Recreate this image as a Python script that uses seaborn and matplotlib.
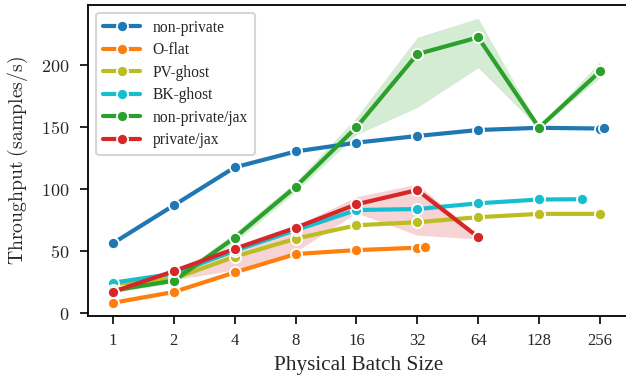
import numpy as np
import pandas as pd
import matplotlib
matplotlib.use("Agg")
import matplotlib.pyplot as plt
import matplotlib.ticker as mticker
import seaborn as sns

# ---- data ----
methods = ["non-private", "O-flat", "PV-ghost", "BK-ghost", "non-private/jax", "private/jax"]
colors = ["#1f77b4", "#ff7f0e", "#bcbd22", "#17becf", "#2ca02c", "#d62728"]

x_nonpriv = [1, 2, 4, 8, 16, 32, 64, 128, 256, 268]
y_nonpriv = [56.5, 87.1, 117.7, 130.5, 137.6, 143.0, 147.8, 149.6, 149.0, 149.8]

x_oflat = [1, 2, 4, 8, 16, 32, 35]
y_oflat = [8.5, 17.2, 33.0, 47.8, 51.0, 52.9, 53.7]

x_pv = [1, 2, 4, 8, 16, 32, 64, 128, 256]
y_pv = [23.5, 28.0, 45.7, 60.2, 71.0, 73.5, 77.5, 80.2, 80.2]

x_bk = [1, 2, 4, 8, 16, 32, 64, 128, 208]
y_bk = [24.7, 32.0, 50.5, 67.0, 83.3, 84.1, 88.7, 91.8, 92.0]

x_npjax = [1, 2, 4, 8, 16, 32, 64, 128, 256]
y_npjax = [18.5, 26.3, 61.0, 102.0, 150.0, 209.0, 222.5, 149.7, 195.0]
lo_npjax = [17.0, 24.5, 57.0, 98.0, 144.0, 166.0, 198.0, 149.0, 190.0]
hi_npjax = [20.0, 28.5, 65.0, 106.0, 158.0, 222.6, 238.0, 150.5, 203.0]

x_pjax = [1, 2, 4, 8, 16, 32, 64]
y_pjax = [17.4, 34.0, 52.0, 69.0, 87.9, 99.4, 61.5]
lo_pjax = [16.0, 27.0, 35.0, 49.7, 81.0, 63.0, 60.0]
hi_pjax = [19.0, 35.5, 54.0, 70.5, 94.0, 104.3, 62.5]

xticks = [1, 2, 4, 8, 16, 32, 64, 128, 256]
yticks = [0, 50, 100, 150, 200]

# ---- build table ----
series = [(x_nonpriv, y_nonpriv), (x_oflat, y_oflat), (x_pv, y_pv),
          (x_bk, y_bk), (x_npjax, y_npjax), (x_pjax, y_pjax)]
frames = []
for name, (xs, ys) in zip(methods, series):
    frames.append(pd.DataFrame({"batch": xs, "throughput": ys, "method": name}))
df = pd.concat(frames, ignore_index=True)

sns.set_theme(style="ticks")
plt.rcParams["font.family"] = ["Liberation Serif", "DejaVu Serif"]
plt.rcParams["mathtext.fontset"] = "cm"

fig = plt.figure(figsize=(6.26, 3.81), dpi=100)
ax = fig.add_axes([88.3 / 626, 1 - 315.7 / 381, 1 - 88.3 / 626 + 0.004, (315.7 - 5) / 381])

sns.lineplot(data=df, x="batch", y="throughput", hue="method", hue_order=methods,
             palette=colors, marker="o", markersize=8, linewidth=3,
             markeredgecolor="white", markeredgewidth=1.3, ax=ax, zorder=3)

ax.fill_between(x_npjax, lo_npjax, hi_npjax, color=colors[4], alpha=0.2, linewidth=0, zorder=1)
ax.fill_between(x_pjax, lo_pjax, hi_pjax, color=colors[5], alpha=0.2, linewidth=0, zorder=1)

ax.set_xscale("log", base=2)
ax.set_xticks(xticks)
ax.set_xticklabels([str(v) for v in xticks])
ax.minorticks_off()
ax.set_xlim(2 ** -0.405, 2 ** 8.47)
ax.set_ylim(-1.9, 248.6)
ax.set_yticks(yticks)
ax.yaxis.set_major_formatter(mticker.FuncFormatter(lambda v, p: f"${int(v)}$"))

ax.tick_params(axis="both", length=6, width=1.2, color="black")
ax.tick_params(axis="x", labelsize=12, pad=6.5)
ax.tick_params(axis="y", labelsize=13, pad=7.5)
for s in ax.spines.values():
    s.set_linewidth(1.3)
    s.set_color("black")

ax.set_xlabel("Physical Batch Size", fontsize=15.3, labelpad=5)
ax.set_ylabel(r"$\mathrm{Throughput}$ $\mathrm{(samples/s)}$", fontsize=14.2, labelpad=8)

leg = ax.legend(loc="upper left", fontsize=11.2, frameon=True, fancybox=True,
                borderpad=0.45, labelspacing=0.42, handlelength=2.4)
leg.get_frame().set_edgecolor("#cccccc")
leg.get_frame().set_linewidth(1.5)

fig.savefig("out.png", dpi=100)
